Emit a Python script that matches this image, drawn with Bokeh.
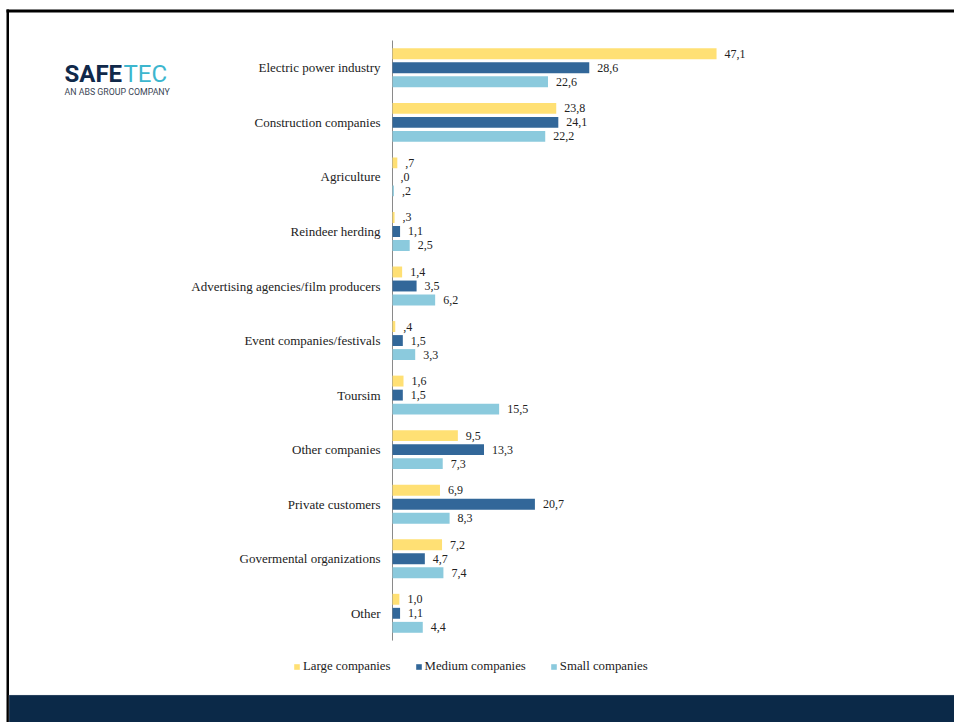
import numpy as np
from bokeh.plotting import figure
from bokeh.models import ColumnDataSource, Range1d, Legend, LegendItem, Label, BoxAnnotation
from bokeh.transform import dodge
from bokeh.core.properties import value
from bokeh.embed import file_html
from bokeh.resources import INLINE

categories = ["Electric power industry", "Construction companies", "Agriculture",
              "Reindeer herding", "Advertising agencies/film producers",
              "Event companies/festivals", "Toursim", "Other companies",
              "Private customers", "Govermental organizations", "Other"]
large = [47.1, 23.8, 0.7, 0.3, 1.4, 0.4, 1.6, 9.5, 6.9, 7.2, 1.0]
medium = [28.6, 24.1, 0.0, 1.1, 3.5, 1.5, 1.5, 13.3, 20.7, 4.7, 1.1]
small = [22.6, 22.2, 0.2, 2.5, 6.2, 3.3, 15.5, 7.3, 8.3, 7.4, 4.4]
series_names = ["Large companies", "Medium companies", "Small companies"]


def fmt(v):
    s = f"{v:.1f}".replace(".", ",")
    if s.startswith("0,"):
        s = s[1:]
    return s


n = len(categories)
src = ColumnDataSource(dict(
    cat=categories, pos=list(range(n)), zero=[0] * n,
    large=large, medium=medium, small=small,
    large_lbl=[fmt(v) for v in large],
    medium_lbl=[fmt(v) for v in medium],
    small_lbl=[fmt(v) for v in small],
))

W, H = 954, 722
AXIS_X = 392          # pixel position of value 0
PX_PER_UNIT = 6.88    # pixels per percentage point
FIRST_Y = 67.3        # pixel centre of first group
GROUP_PX = 54.55      # pixels per group

x_range = Range1d(-AXIS_X / PX_PER_UNIT, (W - AXIS_X) / PX_PER_UNIT)
y_range = Range1d((H - FIRST_Y) / GROUP_PX, -FIRST_Y / GROUP_PX)   # flipped: first group on top

p = figure(width=W, height=H, x_range=x_range, y_range=y_range,
           x_axis_location=None, y_axis_location=None,
           output_backend="svg", toolbar_location=None,
           min_border=0, min_border_left=0, min_border_right=0,
           min_border_top=0, min_border_bottom=0)
p.outline_line_color = None
p.grid.visible = False
p.background_fill_color = "white"
p.border_fill_color = "white"

SERIF = "'Liberation Serif', 'Times New Roman', serif"
serif = value(SERIF)
TXT = "#222222"

# category axis: line + labels
p.segment(x0=0, y0=-0.5, x1=0, y1=n - 0.5, line_color="#8a8a8a", line_width=1)
p.text(x="zero", y="pos", text="cat", source=src, x_offset=-12,
       text_align="right", text_baseline="middle",
       text_font=serif, text_font_size="13px", text_color=TXT)

colors = ["#FFE074", "#326799", "#8BCADD"]
offsets = [-0.257, 0.0, 0.257]
keys = ["large", "medium", "small"]
renderers = []
for key, col, off in zip(keys, colors, offsets):
    r = p.hbar(y=dodge("pos", off), right=key, left=0, height=0.2,
               source=src, fill_color=col, line_color=None)
    renderers.append(r)
    p.text(x=key, y=dodge("pos", off), text=key + "_lbl",
           x_offset=8, text_baseline="middle", text_align="left",
           text_font=serif, text_font_size="12px", text_color=TXT, source=src)

legend = Legend(items=[LegendItem(label=nm, renderers=[r]) for nm, r in zip(series_names, renderers)],
                orientation="horizontal", location=(293, 48),
                border_line_color=None, background_fill_alpha=0,
                padding=0, margin=0, spacing=24, label_standoff=3,
                glyph_width=7, glyph_height=7, label_height=12,
                label_text_font=SERIF,
                label_text_font_size="12.8px", label_text_color=TXT)
p.add_layout(legend, "center")


def box(l, r, t, b, **kw):
    return BoxAnnotation(left=l, right=r, top=H - t, bottom=H - b,
                         left_units="screen", right_units="screen",
                         top_units="screen", bottom_units="screen",
                         fill_alpha=1, **kw)


# page frame: black top and left lines, navy footer band
p.add_layout(box(6, W, 9, 12, fill_color="black", line_color=None))
p.add_layout(box(6, 8.5, 9, H, fill_color="black", line_color=None))
p.add_layout(box(8.5, W, 694.5, H, fill_color="#0B2948", line_color="#c8ced6", line_width=1))

# logo
p.add_layout(Label(x=64, y=H - 73, x_units="screen", y_units="screen", text="SAFE",
                   text_font="Roboto", text_font_style="bold", text_font_size="24px",
                   text_color="#10294A", text_baseline="alphabetic"))
p.add_layout(Label(x=123, y=H - 73, x_units="screen", y_units="screen", text="TEC",
                   text_font="Roboto", text_font_size="24px",
                   text_color="#3DB6CE", text_baseline="alphabetic"))
p.add_layout(Label(x=64, y=H - 91.3, x_units="screen", y_units="screen",
                   text="AN ABS GROUP COMPANY",
                   text_font="Roboto", text_font_size="8.8px",
                   text_color="#3a4656", text_baseline="alphabetic"))

open("out.html", "w").write(file_html(p, INLINE))
